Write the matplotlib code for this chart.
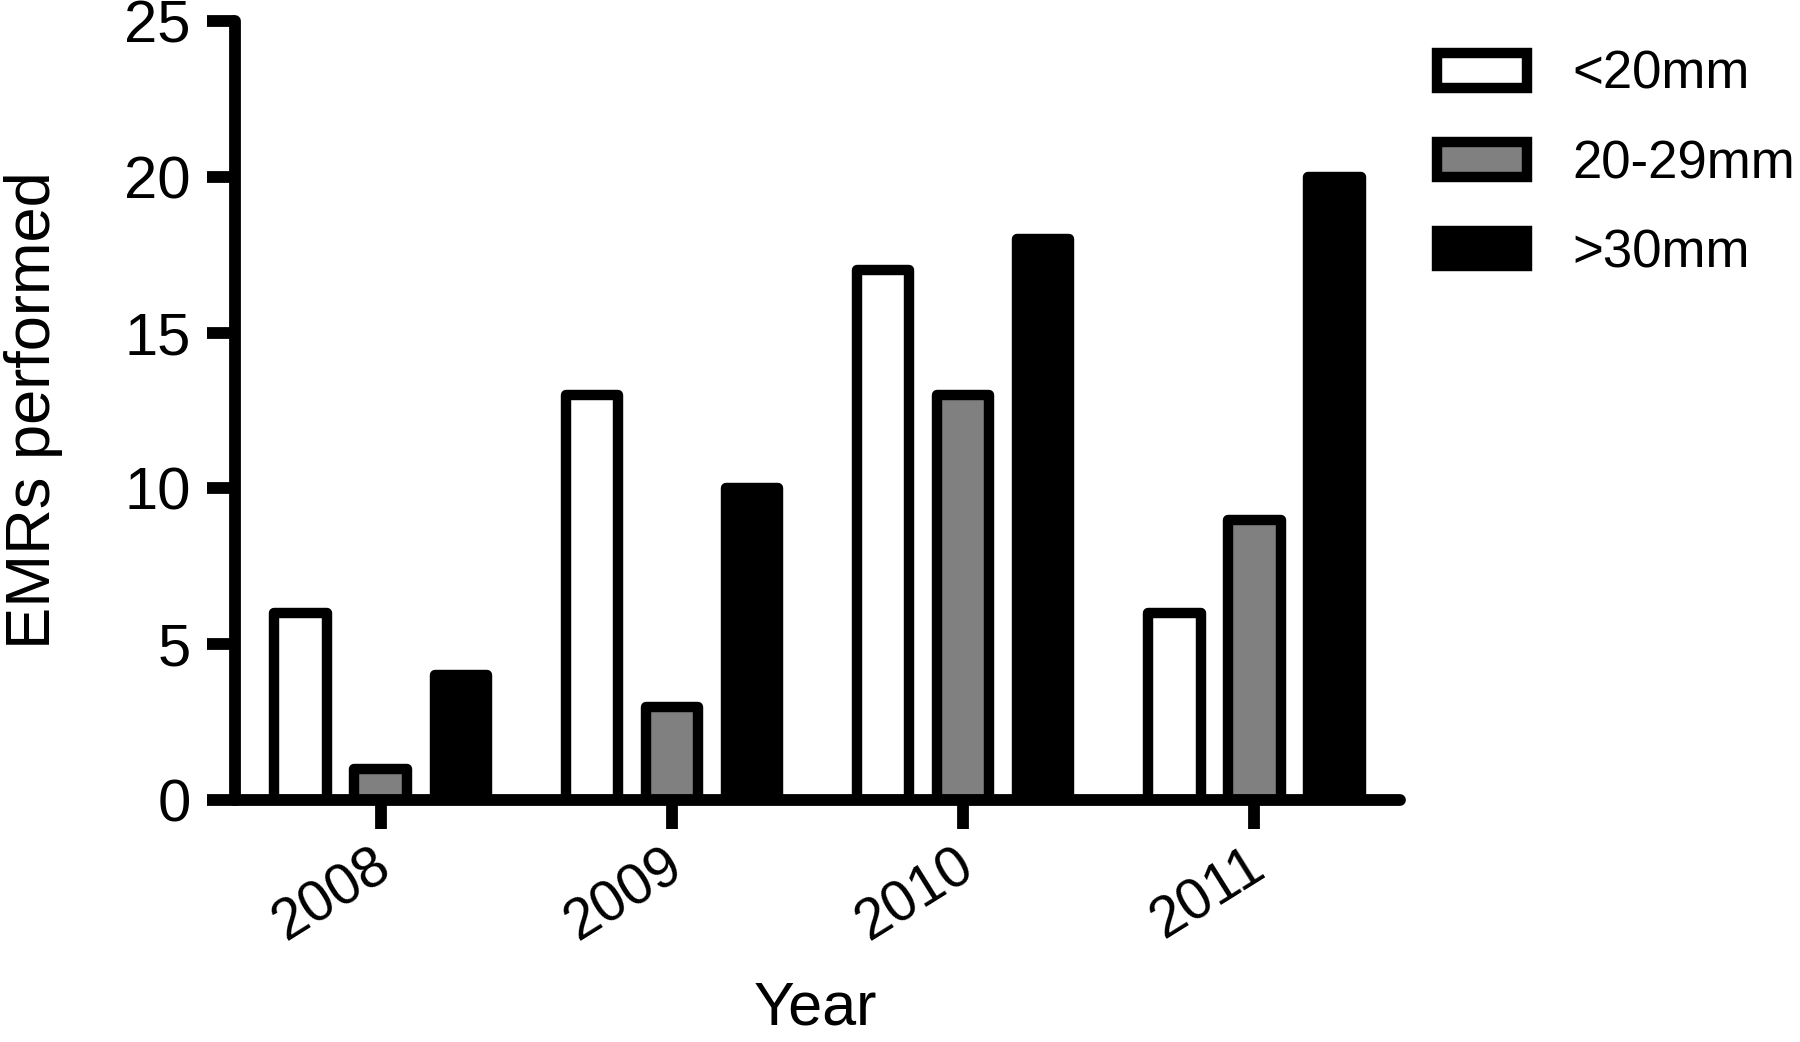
import numpy as np
import matplotlib.pyplot as plt
from matplotlib.transforms import ScaledTranslation

plt.rcParams['font.family'] = ['Liberation Sans', 'DejaVu Sans']

# Data
years = ['2008', '2009', '2010', '2011']
sizes = ['<20mm', '20-29mm', '>30mm']
small = [6, 13, 17, 6]
medium = [1, 3, 13, 9]
large = [4, 10, 18, 20]

colors = ['white', '#808080', 'black']
series = [small, medium, large]

fig = plt.figure(figsize=(18, 10.42), dpi=100)
ax = fig.add_axes([0.1306, 0.2322, 0.6472, 0.7476])

x = np.arange(len(years))
offsets = [-0.275, 0, 0.275]
width = 0.18
for vals, off, col, lab in zip(series, offsets, colors, sizes):
    bars = ax.bar(x + off, vals, width, color=col, edgecolor='black',
                  linewidth=7.5, label=lab, zorder=3)
    for b in bars:
        b.set_joinstyle('round')

ax.set_xlim(-0.5, 3.5)
ax.set_ylim(0, 25)
ax.set_yticks([0, 5, 10, 15, 20, 25])
ax.set_xticks(x)
ax.set_xticklabels(years, rotation=32, ha='right', rotation_mode='anchor')

for side in ['top', 'right']:
    ax.spines[side].set_visible(False)
for side in ['left', 'bottom']:
    ax.spines[side].set_linewidth(8.5)
    ax.spines[side].set_capstyle('round')
    ax.spines[side].set_zorder(4)

ax.tick_params(axis='y', length=20, width=8.5, labelsize=43, pad=12)
ax.tick_params(axis='x', length=21, width=8.5, labelsize=41, pad=7)

# nudge the rotated year labels a little left, like the original
shift = ScaledTranslation(-0.09, 0, fig.dpi_scale_trans)
for lbl in ax.get_xticklabels():
    lbl.set_transform(lbl.get_transform() + shift)

ax.set_ylabel('EMRs performed', fontsize=45.5)
ax.yaxis.set_label_coords(-0.148, 0.5)
ax.set_xlabel('Year', fontsize=44)
ax.xaxis.set_label_coords(0.498, -0.232)

leg = ax.legend(loc='upper left', bbox_to_anchor=(1.014, 0.99), frameon=False,
                fontsize=38, handlelength=1.7, handleheight=0.66,
                labelspacing=0.74, handletextpad=0.86, borderaxespad=0)

fig.savefig('out.png', dpi=100)
